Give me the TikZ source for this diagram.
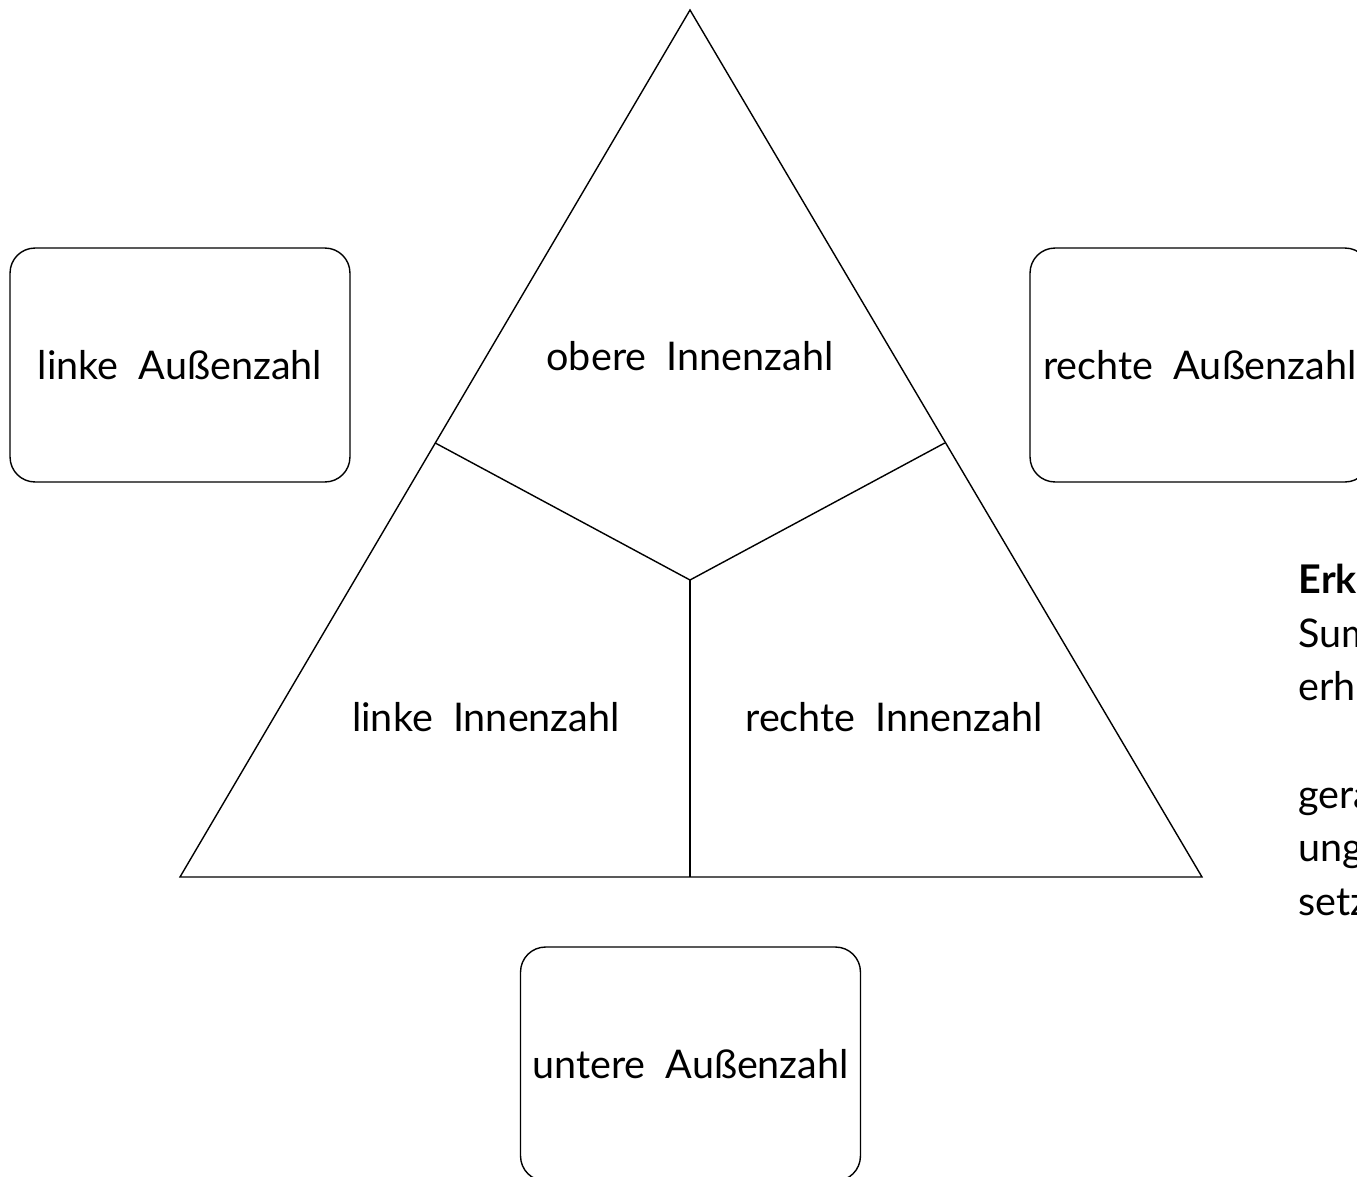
\documentclass[tikz,border=0pt]{standalone}
\usepackage{fontspec}
\setmainfont{Lato}
\tikzset{
  zahlbox/.style={rectangle, draw, rounded corners=0.5cm, line width=0.8pt, minimum width=6.8cm, minimum height=4.68cm},
  zahltext/.style={font=\fontsize{22.5}{27}\selectfont},
  notiz/.style={anchor=base west, inner sep=0pt, font=\fontsize{22.5}{27}\selectfont}
}

\begin{document}
\begin{tikzpicture}[x=0.02cm, y=-0.02cm, line width=0.8pt]
    \useasboundingbox (0,0) rectangle (1357,1177);
    \clip (0,0) rectangle (1357,1177);

    \coordinate (top) at (690, 10);
    \coordinate (left) at (180, 877);
    \coordinate (right) at (1202, 877);
    \coordinate (mid) at (690, 580);
    \coordinate (L_cut) at (435.3, 443);
    \coordinate (R_cut) at (944.7, 443);
    \coordinate (B_cut) at (690, 877);

    \node[zahlbox, zahltext] (L_out) at (180, 365) {linke\ \ Außenzahl};
    \node[zahlbox, zahltext] (R_out) at (1200, 365) {rechte\ \ Außenzahl};
    \node[zahlbox, zahltext] (B_out) at (690.5, 1064) {untere\ \ Außenzahl};

    \node[zahltext] (T_in) at (690, 356) {obere\ \ Innenzahl};
    \node[zahltext] (L_in) at (486, 717) {linke\ \ Innenzahl};
    \node[zahltext] (R_in) at (894, 717) {rechte\ \ Innenzahl};

    \draw (top) -- (left) -- (right) -- cycle;
    \draw (L_cut) -- (mid) -- (R_cut);
    \draw (mid) -- (B_cut);

    \node[notiz, font=\fontsize{22.5}{27}\selectfont\bfseries] (n1) at (1298, 593) {Erk};
    \node[notiz] (n2) at (1298, 647) {Summ};
    \node[notiz] (n3) at (1298, 700) {erha};
    \node[notiz] (n4) at (1298, 808) {gera};
    \node[notiz] (n5) at (1298, 861) {ungr};
    \node[notiz] (n6) at (1298, 915) {setz};

  \end{tikzpicture}
\end{document}
